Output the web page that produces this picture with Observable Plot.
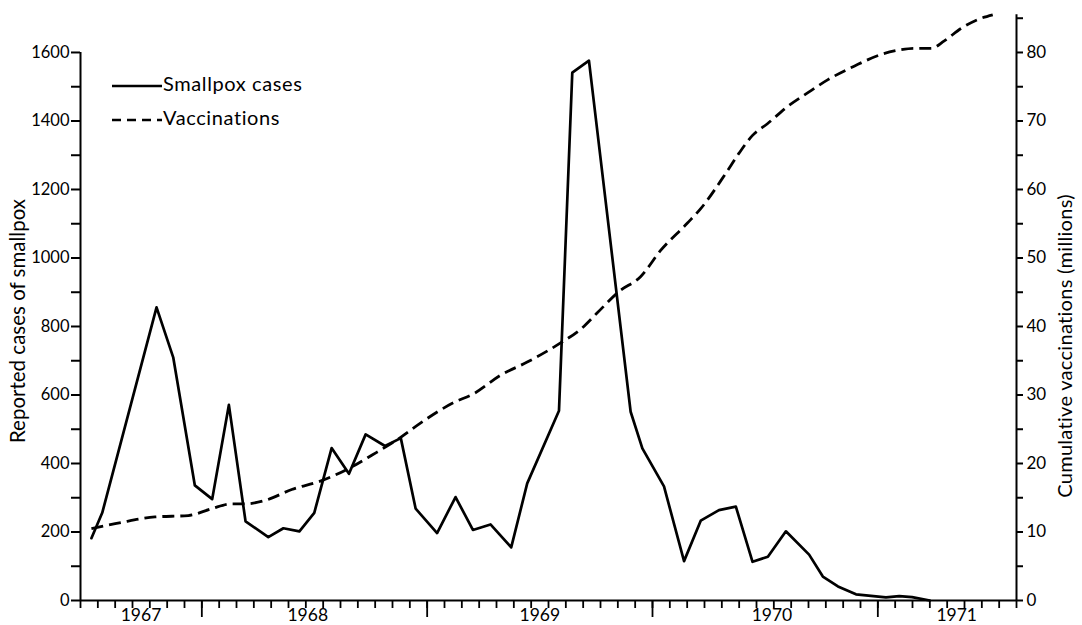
<!DOCTYPE html>
<html>
<head>
<meta charset="utf-8">
<script src="https://cdn.jsdelivr.net/npm/d3@7"></script>
<script src="https://cdn.jsdelivr.net/npm/@observablehq/plot@0.6"></script>
<style>
  html, body { margin: 0; padding: 0; background: #fff; }
  #wrap { position: relative; width: 1082px; height: 625px; overflow: hidden; font-family: Lato, "Open Sans", sans-serif; color: #000; }
  #wrap svg { display: block; }
  .ytitle { position: absolute; white-space: nowrap; transform: translate(-50%, -50%) rotate(-90deg); }
  #legend { position: absolute; left: 0; top: 0; pointer-events: none; }
</style>
</head>
<body>
<div id="wrap"></div>
<script>
// ---- Data ----
// Reported smallpox cases per 4-week period (x in decimal years)
const caseYears = [1967.510, 1967.558, 1967.799, 1967.873, 1967.969, 1968.046, 1968.120, 1968.194, 1968.295, 1968.362,
  1968.433, 1968.499, 1968.576, 1968.653, 1968.727, 1968.813, 1968.883, 1968.949, 1969.044, 1969.126,
  1969.203, 1969.281, 1969.373, 1969.444, 1969.585, 1969.644, 1969.718, 1969.903, 1969.955, 1970.051,
  1970.140, 1970.214, 1970.295, 1970.370, 1970.444, 1970.512, 1970.592, 1970.695, 1970.756, 1970.823,
  1970.903, 1971.036, 1971.095, 1971.152, 1971.231];
const cases = [182, 256, 856, 710, 336, 296, 571, 231, 185, 211,
  202, 256, 445, 370, 485, 451, 474, 268, 197, 302,
  206, 222, 155, 342, 554, 1541, 1576, 551, 444, 333,
  115, 233, 264, 274, 113, 128, 202, 134, 70, 41,
  18, 9, 13, 10, 0];

// Cumulative vaccinations (millions)
const vaccYears = [1967.510, 1967.643, 1967.792, 1967.940, 1968.043, 1968.132, 1968.191, 1968.280, 1968.399, 1968.532,
  1968.665, 1968.754, 1968.873, 1968.970, 1969.118, 1969.207, 1969.326, 1969.444, 1969.592, 1969.681,
  1969.755, 1969.851, 1969.948, 1970.036, 1970.155, 1970.214, 1970.318, 1970.384, 1970.444, 1970.510,
  1970.599, 1970.688, 1970.777, 1970.895, 1971.014, 1971.103, 1971.162, 1971.236, 1971.295, 1971.369,
  1971.443, 1971.510];
const vaccMillions = [10.5, 11.4, 12.2, 12.4, 13.4, 14.1, 14.1, 14.6, 16.2, 17.5,
  19.5, 21.2, 23.6, 25.9, 28.9, 30.2, 32.9, 34.8, 37.6, 39.6,
  42.0, 45.1, 47.3, 51.1, 55.1, 57.2, 62.0, 65.3, 67.9, 69.6,
  72.1, 74.1, 76.0, 78.0, 79.7, 80.4, 80.6, 80.6, 81.7, 83.5,
  84.8, 85.5];

// Axes / ticks
const caseTicks = [0, 200, 400, 600, 800, 1000, 1200, 1400, 1600];
const caseMinorTicks = [100, 300, 500, 700, 900, 1100, 1300, 1500];
const vaccTicks = [0, 10, 20, 30, 40, 50, 60, 70, 80];
const vaccMinorTicks = [5, 15, 25, 35, 45, 55, 65, 75, 85];
const yearLabels = ["1967", "1968", "1969", "1970", "1971"];
const yearLabelPos = [1967.73, 1968.47, 1969.50, 1970.53, 1971.35];
const yearBoundaries = [1968, 1969, 1970, 1971];
const periodYears = [1967, 1968, 1969, 1970, 1971];
const periodsPerYear = 13;                 // 4-week reporting periods
const xStart = 1967 + 6 / 13, xEnd = 1971 + 8 / 13;
const casesTop = 1600, vaccTop = 85.5;
const millionsToCases = 20;                // 80 million <-> 1600 cases

// ---- Build tables ----
const caseData = caseYears.map((t, i) => ({t, v: cases[i]}));
const vaccData = vaccYears.map((t, i) => ({t, v: vaccMillions[i] * millionsToCases}));
const periodTicks = [];
for (const yr of periodYears) for (let k = 0; k < periodsPerYear; k++) {
  const t = yr + k / periodsPerYear;
  if (t >= xStart - 1e-9 && t <= xEnd + 1e-9) periodTicks.push(t);
}
const yearLabelData = yearLabels.map((label, i) => ({label, pos: yearLabelPos[i]}));

const yTop = vaccTop * millionsToCases;
const AX = 2;
const FONT = "Lato, 'Open Sans', sans-serif";

const plot = Plot.plot({
  width: 1082,
  height: 625,
  marginLeft: 80,
  marginRight: 66,
  marginTop: 14.3,
  marginBottom: 25,
  x: {domain: [xStart, xEnd]},
  y: {domain: [0, yTop]},
  style: {fontFamily: FONT, fontSize: "16px", color: "#000", background: "#fff", overflow: "visible"},
  marks: [
    // axis lines
    Plot.ruleY([0], {stroke: "#000", strokeWidth: AX}),
    Plot.ruleX([xStart], {y1: 0, y2: casesTop, stroke: "#000", strokeWidth: AX}),
    Plot.ruleX([xEnd], {y1: 0, y2: yTop, stroke: "#000", strokeWidth: AX}),
    // left axis
    Plot.axisY({anchor: "left", ticks: caseTicks, tickSize: 9, tickPadding: 2, tickFormat: d => String(d), strokeWidth: AX, label: null, fontSize: 16.5}),
    Plot.axisY({anchor: "left", ticks: caseMinorTicks, tickSize: 9, tickFormat: () => "", strokeWidth: AX, label: null}),
    // right axis (millions)
    Plot.axisY({anchor: "right", ticks: vaccTicks.map(m => m * millionsToCases), tickSize: 6, tickPadding: 4,
      tickFormat: d => String(Math.round(d / millionsToCases)), strokeWidth: AX, label: null, fontSize: 17}),
    Plot.axisY({anchor: "right", ticks: vaccMinorTicks.map(m => m * millionsToCases), tickSize: 6, tickFormat: () => "", strokeWidth: AX, label: null}),
    // bottom axis
    Plot.axisX({ticks: periodTicks, tickSize: 8, tickFormat: () => "", strokeWidth: 1.8, label: null}),
    Plot.axisX({ticks: yearBoundaries, tickSize: 17, tickFormat: () => "", strokeWidth: 1.8, label: null}),
    Plot.text(yearLabelData, {x: "pos", y: 0, text: "label", lineAnchor: "top", dy: 8, fontSize: 17.5, fill: "#000"}),
    // data
    Plot.line(vaccData, {x: "t", y: "v", stroke: "#000", strokeWidth: 2.8, strokeDasharray: "12,6", strokeLinecap: "butt", curve: "monotone-x"}),
    Plot.line(caseData, {x: "t", y: "v", stroke: "#000", strokeWidth: 2.7, strokeLinejoin: "round"})
  ]
});

const wrap = document.getElementById("wrap");
wrap.appendChild(plot);

// axis titles
const lt = document.createElement("div");
lt.className = "ytitle";
lt.textContent = "Reported cases of smallpox";
lt.style.fontSize = "20.5px";
lt.style.left = "17px"; lt.style.top = "321px";
wrap.appendChild(lt);
const rt = document.createElement("div");
rt.className = "ytitle";
rt.textContent = "Cumulative vaccinations (millions)";
rt.style.fontSize = "20px";
rt.style.letterSpacing = "0.3px";
rt.style.left = "1064px"; rt.style.top = "346px";
wrap.appendChild(rt);

// legend
const NS = "http://www.w3.org/2000/svg";
const lg = document.createElementNS(NS, "svg");
lg.setAttribute("id", "legend");
lg.setAttribute("width", 1082); lg.setAttribute("height", 625);
const items = [
  {label: "Smallpox cases", dash: null, y: 86},
  {label: "Vaccinations", dash: "9,6", y: 120}
];
for (const it of items) {
  const ln = document.createElementNS(NS, "line");
  ln.setAttribute("x1", 112); ln.setAttribute("x2", 162);
  ln.setAttribute("y1", it.y); ln.setAttribute("y2", it.y);
  ln.setAttribute("stroke", "#000"); ln.setAttribute("stroke-width", 2.7);
  if (it.dash) ln.setAttribute("stroke-dasharray", it.dash);
  lg.appendChild(ln);
  const tx = document.createElementNS(NS, "text");
  tx.setAttribute("x", 163); tx.setAttribute("y", it.y);
  tx.setAttribute("dominant-baseline", "middle");
  tx.setAttribute("font-family", FONT);
  tx.setAttribute("font-size", 20);
  tx.setAttribute("letter-spacing", 0.6);
  tx.setAttribute("fill", "#000");
  tx.textContent = it.label;
  lg.appendChild(tx);
}
wrap.appendChild(lg);
</script>
</body>
</html>
